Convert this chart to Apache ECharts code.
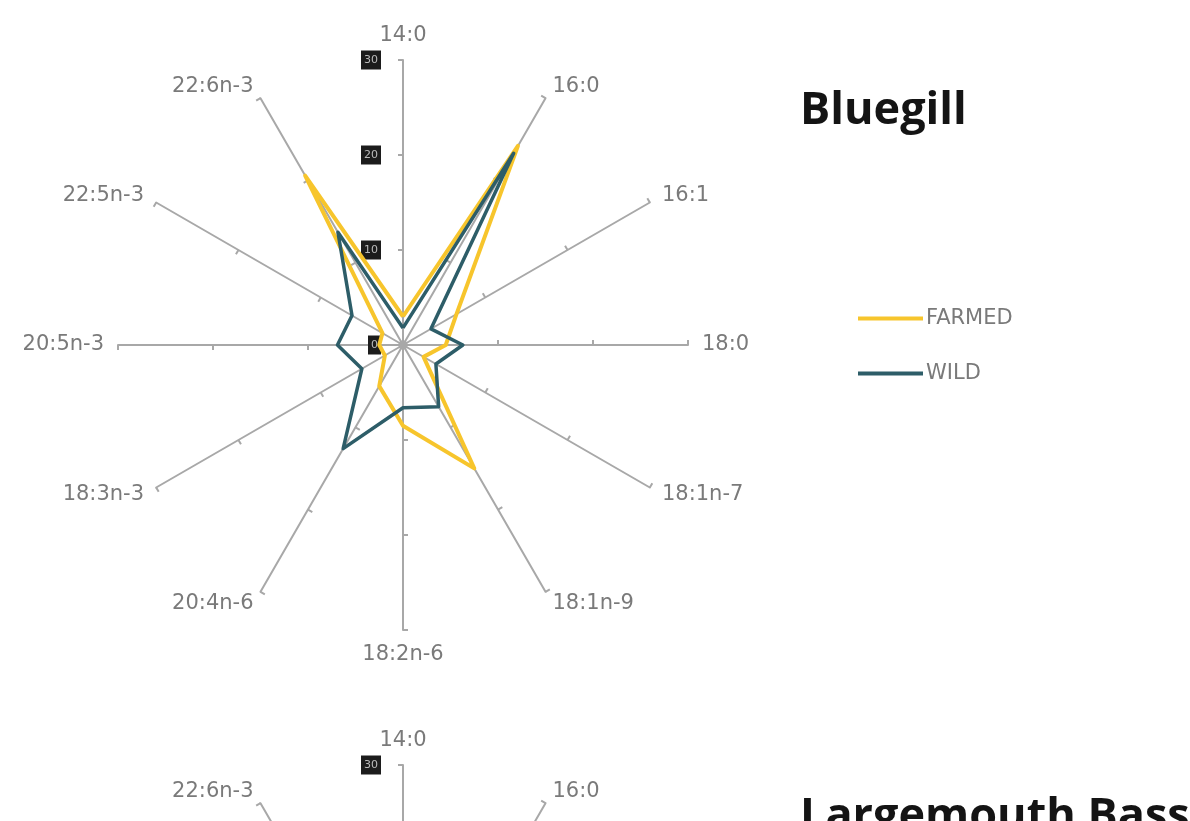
<!DOCTYPE html>
<html><head><meta charset="utf-8">
<script src="https://cdn.jsdelivr.net/npm/echarts@6/dist/echarts.min.js"></script>
<style>html,body{margin:0;padding:0;background:#fff}#c{width:1190px;height:821px}</style>
</head><body><div id="c"></div>
<script>
// Fatty acids, listed clockwise starting at the top
const categories = ['14:0','16:0','16:1','18:0','18:1n-7','18:1n-9','18:2n-6','20:4n-6','18:3n-3','20:5n-3','22:5n-3','22:6n-3'];
const farmed = [3, 24.2, 6.5, 4.5, 2.5, 15, 8.5, 5, 2.2, 2.5, 2.5, 20.6];
const wild   = [1.8, 23.3, 3.4, 6.3, 4, 7.5, 6.6, 12.6, 5, 6.9, 6.2, 13.7];
const tickLabels = ['0','10','20','30'];
const axisMax = 30;
const seriesNames = ['FARMED','WILD'];
const titles = ['Bluegill','Largemouth Bass'];

// ECharts lays indicators out counter-clockwise; reorder to get clockwise
const order = [0].concat(categories.map((_, i) => i).slice(1).reverse());
const pick = arr => order.map(i => arr[i]);

function makeIndicators() {
  return pick(categories).map((name, i) => {
    const ind = { name: name, min: 0, max: axisMax };
    if (i === 0) {
      ind.axisLabel = {
        show: true, showMinLabel: true, showMaxLabel: true,
        formatter: v => tickLabels[Math.round(v / (axisMax / (tickLabels.length - 1)))],
        backgroundColor: '#1c1c1c', color: '#bbbbbb', fontSize: 11,
        fontFamily: 'DejaVu Sans', padding: [4, 3], margin: 22
      };
    }
    return ind;
  });
}

const radarBase = {
  radius: 285, startAngle: 90, splitNumber: 3,
  shape: 'polygon',
  axisName: { color: '#7a7a7a', fontSize: 21, fontFamily: 'DejaVu Sans' },
  nameGap: 14,
  axisLine: { lineStyle: { color: '#a8a8a8', width: 2 } },
  axisTick: { show: true, length: 5, lineStyle: { color: '#a8a8a8', width: 2 } },
  axisLabel: { show: false },
  splitLine: { show: false },
  splitArea: { show: false }
};

const chart = echarts.init(document.getElementById('c'), null, { renderer: 'canvas' });
chart.setOption({
  backgroundColor: '#ffffff',
  animation: false,
  title: [
    { text: titles[0], left: 795, top: 84, textStyle: { fontFamily: 'Open Sans', fontWeight: 'bold', fontSize: 45, color: '#141414' } },
    { text: titles[1], left: 795, top: 790, textStyle: { fontFamily: 'Open Sans', fontWeight: 'bold', fontSize: 45, color: '#141414' } }
  ],
  legend: {
    orient: 'vertical', left: 853, top: 303, itemGap: 34,
    itemWidth: 65, itemHeight: 4, icon: 'rect',
    textStyle: { color: '#7a7a7a', fontSize: 21, fontFamily: 'DejaVu Sans', padding: [0, 0, 0, -2] },
    data: seriesNames
  },
  radar: [
    Object.assign({}, radarBase, { center: [403, 345], indicator: makeIndicators() }),
    Object.assign({}, radarBase, { center: [403, 1050], indicator: makeIndicators() })
  ],
  series: [{
    type: 'radar', radarIndex: 0, symbol: 'none',
    data: [
      { name: seriesNames[0], value: pick(farmed), lineStyle: { color: '#f7c52c', width: 4 }, itemStyle: { color: '#f7c52c' } },
      { name: seriesNames[1], value: pick(wild), lineStyle: { color: '#2d5d68', width: 3.5 }, itemStyle: { color: '#2d5d68' } }
    ]
  }]
});
</script></body></html>
